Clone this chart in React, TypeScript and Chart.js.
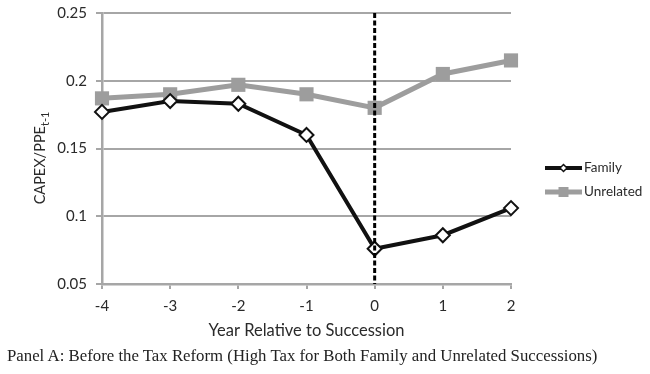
import React, { useEffect, useRef } from "react";
import { Chart, registerables } from "chart.js";

Chart.register(...registerables);

const years = [-4, -3, -2, -1, 0, 1, 2];
const familyValues = [0.177, 0.185, 0.183, 0.16, 0.076, 0.086, 0.106];
const unrelatedValues = [0.187, 0.19, 0.197, 0.19, 0.18, 0.205, 0.215];
const yTickValues = [0.05, 0.1, 0.15, 0.2, 0.25];
const seriesNames = ["Family", "Unrelated"];
const successionYear = 0;
const yTitleMain = "CAPEX/PPE";
const yTitleSub = "t-1";
const xTitle = "Year Relative to Succession";
const caption =
  "Panel A: Before the Tax Reform (High Tax for Both Family and Unrelated Successions)";

const FONT = "Lato, 'Open Sans', sans-serif";
const GRID = "#a6a6a6";
const TEXT = "#2a2a2a";
const BLACK = "#111111";
const GREY = "#9d9d9d";

export default function App() {
  const ref = useRef<HTMLCanvasElement | null>(null);

  useEffect(() => {
    if (!ref.current) return;

    const overlay = {
      id: "overlay",
      afterDatasetsDraw(chart: any) {
        const { ctx, chartArea } = chart;
        const x = chart.scales.x.getPixelForValue(successionYear);
        ctx.save();
        ctx.strokeStyle = "#000";
        ctx.lineWidth = 3;
        ctx.setLineDash([5, 2.5]);
        ctx.beginPath();
        ctx.moveTo(x, chartArea.top);
        ctx.lineTo(x, chartArea.bottom);
        ctx.stroke();
        ctx.restore();
      },
      afterDraw(chart: any) {
        const { ctx } = chart;
        ctx.save();
        // y title with subscript
        ctx.translate(40, 158);
        ctx.rotate(-Math.PI / 2);
        ctx.fillStyle = TEXT;
        ctx.font = `14.5px ${FONT}`;
        const mainW = ctx.measureText(yTitleMain).width;
        ctx.font = `11px ${FONT}`;
        const subW = ctx.measureText(yTitleSub).width;
        const total = mainW + subW;
        ctx.textBaseline = "middle";
        ctx.textAlign = "left";
        ctx.font = `14.5px ${FONT}`;
        ctx.fillText(yTitleMain, -total / 2, 0);
        ctx.font = `11px ${FONT}`;
        ctx.fillText(yTitleSub, -total / 2 + mainW, 5);
        ctx.restore();

        // legend
        const items = chart.data.datasets;
        items.forEach((ds: any, i: number) => {
          const y = 168 + i * 24;
          const x0 = 545;
          const x1 = 582;
          ctx.save();
          ctx.strokeStyle = ds.borderColor;
          ctx.lineWidth = ds.borderWidth;
          ctx.beginPath();
          ctx.moveTo(x0, y);
          ctx.lineTo(x1, y);
          ctx.stroke();
          const cx = (x0 + x1) / 2;
          if (ds.pointStyle === "rect") {
            ctx.fillStyle = ds.pointBackgroundColor;
            ctx.fillRect(cx - 5, y - 5, 10, 10);
          } else {
            ctx.fillStyle = "#fff";
            ctx.strokeStyle = ds.pointBorderColor;
            ctx.lineWidth = 1.5;
            ctx.beginPath();
            ctx.moveTo(cx, y - 3.5);
            ctx.lineTo(cx + 3.5, y);
            ctx.lineTo(cx, y + 3.5);
            ctx.lineTo(cx - 3.5, y);
            ctx.closePath();
            ctx.fill();
            ctx.stroke();
          }
          ctx.fillStyle = TEXT;
          ctx.font = `13.5px ${FONT}`;
          ctx.textBaseline = "middle";
          ctx.textAlign = "left";
          ctx.fillText(ds.label, x1 + 2, y);
          ctx.restore();
        });
      },
    };

    const chart = new Chart(ref.current, {
      type: "line",
      data: {
        datasets: [
          {
            label: seriesNames[0],
            data: years.map((x, i) => ({ x, y: familyValues[i] })),
            borderColor: BLACK,
            borderWidth: 4,
            pointStyle: "rectRot",
            pointRadius: 7,
            pointBackgroundColor: "#ffffff",
            pointBorderColor: BLACK,
            pointBorderWidth: 2,
            clip: false,
            order: 1,
          },
          {
            label: seriesNames[1],
            data: years.map((x, i) => ({ x, y: unrelatedValues[i] })),
            borderColor: GREY,
            borderWidth: 5,
            pointStyle: "rect",
            pointRadius: 10,
            pointBackgroundColor: GREY,
            pointBorderColor: GREY,
            pointBorderWidth: 0,
            clip: false,
            order: 2,
          },
        ],
      },
      options: {
        responsive: false,
        animation: false,
        layout: { padding: { left: 0, top: 13, right: 139, bottom: 33 } },
        plugins: {
          legend: { display: false },
          tooltip: { enabled: false },
        },
        scales: {
          x: {
            type: "linear",
            min: years[0],
            max: years[years.length - 1],
            afterFit(scale: any) {
              scale.height = 57;
              scale.paddingLeft = 0;
              scale.paddingRight = 0;
            },
            afterBuildTicks(scale: any) {
              scale.ticks = years.map((v) => ({ value: v }));
            },
            ticks: {
              color: TEXT,
              font: { family: FONT, size: 15 },
              padding: 8,
              maxRotation: 0,
            },
            grid: {
              drawOnChartArea: false,
              drawTicks: true,
              tickLength: 5,
              color: GRID,
              lineWidth: 2,
            },
            border: { display: true, color: GRID, width: 2.5 },
            title: {
              display: true,
              text: xTitle,
              color: TEXT,
              font: { family: FONT, size: 16.5 },
              padding: { top: 0, bottom: 0 },
            },
          },
          y: {
            type: "linear",
            min: 0.05,
            max: 0.25,
            afterFit(scale: any) {
              scale.width = 102;
              scale.paddingTop = 0;
              scale.paddingBottom = 0;
            },
            afterBuildTicks(scale: any) {
              scale.ticks = yTickValues.map((v) => ({ value: v }));
            },
            ticks: {
              color: TEXT,
              font: { family: FONT, size: 15 },
              padding: 9,
              callback: (v: any) => String(Number(Number(v).toFixed(2))),
            },
            grid: {
              color: GRID,
              lineWidth: 2,
              tickLength: 6,
            },
            border: { display: true, color: GRID, width: 2.5 },
          },
        },
      },
      plugins: [overlay],
    });

    return () => chart.destroy();
  }, []);

  return (
    <div
      style={{
        position: "absolute",
        left: 0,
        top: 0,
        width: 650,
        height: 374,
        background: "#fff",
      }}
    >
      <canvas ref={ref} width={650} height={374} style={{ display: "block" }} />
      <div
        style={{
          position: "absolute",
          left: 7,
          top: 346,
          fontFamily: "'Liberation Serif', 'Times New Roman', serif",
          fontSize: 16.8,
          color: "#222",
          whiteSpace: "nowrap",
        }}
      >
        {caption}
      </div>
    </div>
  );
}
